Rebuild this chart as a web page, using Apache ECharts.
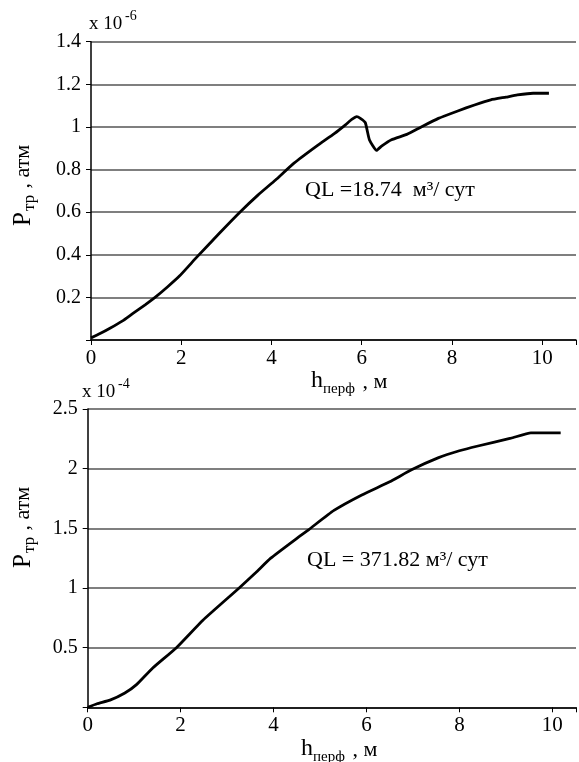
<!DOCTYPE html>
<html><head><meta charset="utf-8">
<script src="https://cdn.jsdelivr.net/npm/echarts@6/dist/echarts.min.js"></script>
<style>html,body{margin:0;padding:0;background:#fff}#c{width:579px;height:762px}</style>
</head><body><div id="c"></div>
<script>
// Top chart (QL = 18.74), values in units of 1e-6 атм
const topX = [0, 0.2, 0.42, 0.7, 0.93, 1.2, 1.42, 1.7, 1.96, 2.35, 2.84, 3.3, 3.7, 4.09, 4.5, 5.0, 5.4, 5.64, 5.78, 5.89, 5.97, 6.08, 6.17, 6.33, 6.44, 6.66, 7.0, 7.32, 7.7, 8.13, 8.5, 8.86, 9.2, 9.45, 9.8, 10.15];
const topY = [0.01, 0.03, 0.055, 0.09, 0.125, 0.165, 0.2, 0.25, 0.3, 0.39, 0.5, 0.6, 0.68, 0.751, 0.83, 0.91, 0.97, 1.01, 1.035, 1.048, 1.04, 1.02, 0.94, 0.89, 0.91, 0.94, 0.965, 1.0, 1.04, 1.075, 1.103, 1.127, 1.14, 1.15, 1.158, 1.158];
// Bottom chart (QL = 371.82), values in units of 1e-4 атм
const botX = [0, 0.2, 0.48, 0.8, 1.05, 1.4, 1.91, 2.48, 3.26, 3.62, 3.94, 4.55, 4.76, 5.3, 5.9, 6.5, 6.97, 7.54, 8.0, 8.4, 9.11, 9.54, 10.18];
const botY = [0, 0.03, 0.06, 0.12, 0.19, 0.33, 0.5, 0.73, 1.0, 1.13, 1.25, 1.43, 1.49, 1.65, 1.78, 1.89, 1.99, 2.09, 2.15, 2.19, 2.255, 2.30, 2.30];
const xTicks = [0, 2, 4, 6, 8, 10];
const topYTicks = [0.2, 0.4, 0.6, 0.8, 1, 1.2, 1.4];
const botYTicks = [0.5, 1, 1.5, 2, 2.5];
const topNote = 'QL =18.74  м³/ сут';
const botNote = 'QL = 371.82 м³/ сут';

const FONT = '"Liberation Serif", "DejaVu Serif", serif';
const chart = echarts.init(document.getElementById('c'), null, {renderer: 'canvas'});

function xAxis(idx, max) {
  return {
    type: 'value', gridIndex: idx, min: 0, max: max, interval: 2,
    axisLine: {show: true, onZero: false, lineStyle: {color: '#000', width: 1.5}},
    axisTick: {show: true, inside: false, length: 5, lineStyle: {color: '#000'}},
    axisLabel: {show: true, margin: 8, color: '#000', fontFamily: FONT, fontSize: 21,
      formatter: v => xTicks.includes(v) ? String(v) : ''},
    splitLine: {show: false}
  };
}
function yAxis(idx, max, interval, ticks) {
  return {
    type: 'value', gridIndex: idx, min: 0, max: max, interval: interval,
    axisLine: {show: true, lineStyle: {color: '#000', width: 1.5}},
    axisTick: {show: true, inside: false, length: 5, lineStyle: {color: '#000'}},
    axisLabel: {show: true, margin: 10, color: '#000', fontFamily: FONT, fontSize: 20,
      formatter: v => { const r = +v.toFixed(2); return ticks.includes(r) ? String(r) : ''; }},
    splitLine: {show: true, lineStyle: {color: '#555', width: 1.5}}
  };
}
function pairs(xs, ys) { return xs.map((x, i) => [x, ys[i]]); }

function yTitle(x, yBottom) {
  return {
    type: 'group', x: x, y: yBottom, rotation: Math.PI / 2,
    children: [
      {type: 'text', x: 0, y: -8, style: {text: 'P', font: '25px ' + FONT, fill: '#000', verticalAlign: 'middle'}},
      {type: 'text', x: 15, y: -1, style: {text: 'тр', font: '17px ' + FONT, fill: '#000', verticalAlign: 'middle'}},
      {type: 'text', x: 32, y: -8, style: {text: ' , атм', font: '22px ' + FONT, fill: '#000', verticalAlign: 'middle'}}
    ]
  };
}
function xTitle(x, baseline) {
  return {
    type: 'group', x: x, y: baseline,
    children: [
      {type: 'text', x: 0, y: -8, style: {text: 'h', font: '24px ' + FONT, fill: '#000', verticalAlign: 'middle'}},
      {type: 'text', x: 12, y: 0, style: {text: 'перф', font: '15px ' + FONT, fill: '#000', verticalAlign: 'middle'}},
      {type: 'text', x: 46, y: -7, style: {text: ' , м', font: '22px ' + FONT, fill: '#000', verticalAlign: 'middle'}}
    ]
  };
}
function scale(x, y, exp) {
  return {
    type: 'group', x: x, y: y,
    children: [
      {type: 'text', x: 0, y: 0, style: {text: 'x 10', font: '19px ' + FONT, fill: '#000', verticalAlign: 'middle'}},
      {type: 'text', x: 36, y: -8, style: {text: exp, font: '14px ' + FONT, fill: '#000', verticalAlign: 'middle'}}
    ]
  };
}
function note(x, baseline, txt) {
  return {type: 'text', x: x, y: baseline - 7, style: {text: txt, font: '22px ' + FONT, fill: '#000', verticalAlign: 'middle'}};
}

chart.setOption({
  animation: false,
  backgroundColor: '#fff',
  grid: [
    {left: 91, top: 41.7, width: 488, height: 298.3},
    {left: 87.7, top: 409, width: 491.3, height: 298.3}
  ],
  xAxis: [xAxis(0, 10.75), xAxis(1, 10.51)],
  yAxis: [yAxis(0, 1.4, 0.2, topYTicks), yAxis(1, 2.5, 0.5, botYTicks)],
  series: [
    {type: 'line', xAxisIndex: 0, yAxisIndex: 0, data: pairs(topX, topY), showSymbol: false, smooth: 0.15,
      lineStyle: {color: '#000', width: 2.8}},
    {type: 'line', xAxisIndex: 1, yAxisIndex: 1, data: pairs(botX, botY), showSymbol: false, smooth: 0.15,
      lineStyle: {color: '#000', width: 2.8}}
  ],
  graphic: [
    yTitle(31, 226),
    yTitle(31, 568),
    xTitle(311, 389),
    xTitle(301, 757),
    scale(89, 24, '-6'),
    scale(82, 392, '-4'),
    note(305, 197, topNote),
    note(307, 567, botNote)
  ]
});
</script></body></html>
